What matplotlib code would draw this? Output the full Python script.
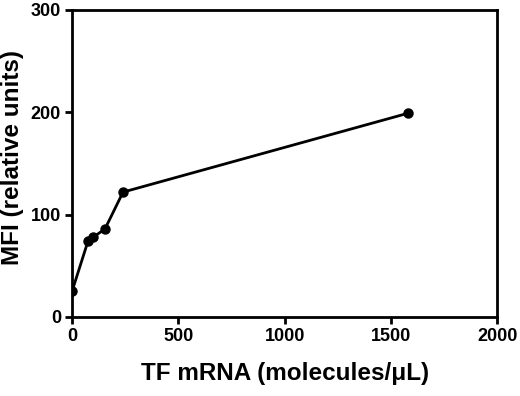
import matplotlib
matplotlib.use("Agg")
from matplotlib import pyplot as plt

# data
tf_mrna = [0, 75, 100, 155, 240, 1580]
mfi = [25, 74, 78, 86, 122, 199]
x_ticks = [0, 500, 1000, 1500, 2000]
y_ticks = [0, 100, 200, 300]

plt.rcParams['font.family'] = ['Liberation Sans', 'DejaVu Sans']
plt.rcParams['font.weight'] = 'bold'

fig = plt.figure(figsize=(5.2, 3.96), dpi=100)
ax = fig.add_axes([0.1385, 0.1995, 0.8175, 0.7755])

ax.plot(tf_mrna, mfi, color='black', linewidth=2, marker='o', markersize=6.5)

ax.set_xlim(0, 2000)
ax.set_ylim(0, 300)
ax.set_xticks(x_ticks)
ax.set_yticks(y_ticks)
ax.tick_params(direction='out', length=5, width=2, labelsize=13, pad=3)
for s in ax.spines.values():
    s.set_linewidth(2)

ax.set_xlabel('TF mRNA (molecules/\u03bcL)', fontsize=17.5, fontweight='bold', labelpad=12)
ax.set_ylabel('MFI (relative units)', fontsize=17.5, fontweight='bold', va='center')
ax.yaxis.set_label_coords(-0.141, 0.52)

fig.savefig('out.png', dpi=100)
